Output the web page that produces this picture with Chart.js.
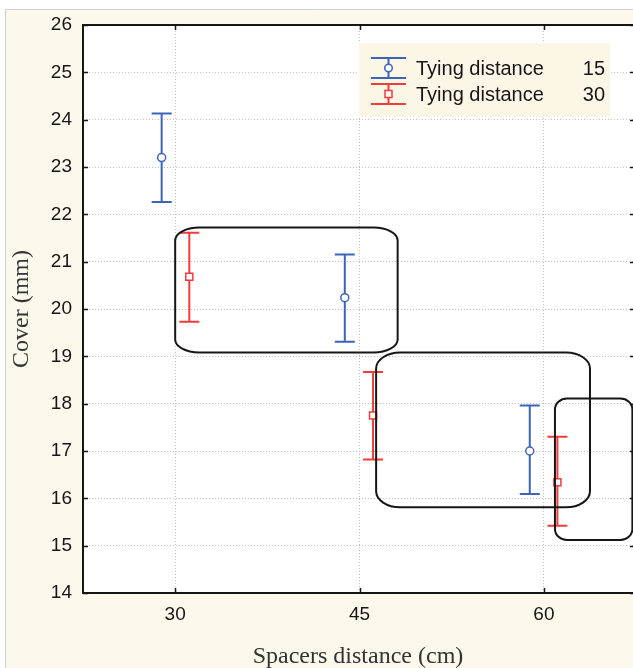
<!DOCTYPE html>
<html>
<head>
    <title>Cover vs spacers distance</title>
    <script src="https://cdn.jsdelivr.net/npm/chart.js"></script>
    <style>
        html, body { margin: 0; padding: 0; overflow: hidden; background: #fff; }
        .chart-box { position: absolute; left: 0; top: 0; width: 633px; height: 668px; }
    </style>
</head>
<body>
    <div class="chart-box">
        <canvas id="coverChart" width="633" height="668"></canvas>
    </div>

    <script>
        // values
        const xTicks = [30, 45, 60];
        const yTicks = [14, 15, 16, 17, 18, 19, 20, 21, 22, 23, 24, 25, 26];
        const legendNames = ['Tying distance', 'Tying distance'];
        const legendTags = ['15', '30'];

        const tying15X = [28.9, 43.8, 58.85];
        const tying15Mean = [23.2, 20.24, 17.0];
        const tying15Low = [22.26, 19.31, 16.09];
        const tying15High = [24.13, 21.15, 17.96];

        const tying30X = [31.15, 46.1, 61.1];
        const tying30Mean = [20.68, 17.75, 16.34];
        const tying30Low = [19.73, 16.82, 15.42];
        const tying30High = [21.61, 18.67, 17.30];

        // rounded group boxes, in axis units
        const groupX0 = [30.0, 46.35, 60.9];
        const groupX1 = [48.1, 63.75, 67.2];
        const groupY0 = [19.08, 15.81, 15.12];
        const groupY1 = [21.72, 19.08, 18.11];

        const BLUE = '#3d64b6';
        const RED = '#ee3d3b';
        const INK = '#161616';
        const CREAM = '#fdf8ec';
        const groupRadii = [[24, 13], [24, 16], [12, 11]];

        function toPoints(xs, mean, low, high) {
            return xs.map((x, i) => ({ x: x, y: mean[i], low: low[i], high: high[i] }));
        }

        // page background + white plot area
        const backdrop = {
            id: 'backdrop',
            beforeDraw(chart) {
                const { ctx, width, height, chartArea } = chart;
                ctx.save();
                ctx.fillStyle = '#fff';
                ctx.fillRect(0, 0, width, height);
                ctx.fillStyle = CREAM;
                ctx.fillRect(5.5, 9.5, width, height);
                ctx.strokeStyle = '#cfcfcf';
                ctx.lineWidth = 1;
                ctx.beginPath();
                ctx.moveTo(5.5, height);
                ctx.lineTo(5.5, 9.5);
                ctx.lineTo(width, 9.5);
                ctx.stroke();
                ctx.fillStyle = '#fff';
                ctx.fillRect(chartArea.left, chartArea.top, chartArea.width, chartArea.height);
                ctx.restore();
            }
        };

        // whiskers with caps, drawn under the markers
        const errorBars = {
            id: 'errorBars',
            beforeDatasetsDraw(chart) {
                const { ctx } = chart;
                const xs = chart.scales.x, ys = chart.scales.y;
                chart.data.datasets.forEach(ds => {
                    ctx.save();
                    ctx.strokeStyle = ds.borderColor;
                    ctx.lineWidth = 2;
                    ds.data.forEach(p => {
                        const px = xs.getPixelForValue(p.x);
                        const top = ys.getPixelForValue(p.high);
                        const bot = ys.getPixelForValue(p.low);
                        ctx.beginPath();
                        ctx.moveTo(px, top); ctx.lineTo(px, bot);
                        ctx.moveTo(px - 10, top); ctx.lineTo(px + 10, top);
                        ctx.moveTo(px - 10, bot); ctx.lineTo(px + 10, bot);
                        ctx.stroke();
                    });
                    ctx.restore();
                });
            }
        };

        function roundBox(ctx, x0, y0, x1, y1, rx, ry) {
            ctx.beginPath();
            ctx.moveTo(x0 + rx, y0);
            ctx.lineTo(x1 - rx, y0);
            ctx.ellipse(x1 - rx, y0 + ry, rx, ry, 0, -Math.PI / 2, 0);
            ctx.lineTo(x1, y1 - ry);
            ctx.ellipse(x1 - rx, y1 - ry, rx, ry, 0, 0, Math.PI / 2);
            ctx.lineTo(x0 + rx, y1);
            ctx.ellipse(x0 + rx, y1 - ry, rx, ry, 0, Math.PI / 2, Math.PI);
            ctx.lineTo(x0, y0 + ry);
            ctx.ellipse(x0 + rx, y0 + ry, rx, ry, 0, Math.PI, Math.PI * 1.5);
            ctx.closePath();
            ctx.stroke();
        }

        // frame, inward ticks, group boxes and the legend
        const overlay = {
            id: 'overlay',
            afterDatasetsDraw(chart) {
                const { ctx, chartArea } = chart;
                const xs = chart.scales.x, ys = chart.scales.y;
                const { left, right, top, bottom } = chartArea;
                ctx.save();

                ctx.strokeStyle = INK;
                ctx.lineWidth = 2;
                groupX0.forEach((v, i) => {
                    roundBox(ctx,
                        xs.getPixelForValue(v), ys.getPixelForValue(groupY1[i]),
                        xs.getPixelForValue(groupX1[i]), ys.getPixelForValue(groupY0[i]),
                        groupRadii[i][0], groupRadii[i][1]);
                });

                // frame is cut off on the right in the source figure
                ctx.lineWidth = 2;
                ctx.beginPath();
                ctx.moveTo(right, top);
                ctx.lineTo(left, top);
                ctx.lineTo(left, bottom);
                ctx.lineTo(right, bottom);
                ctx.stroke();

                ctx.lineWidth = 1.5;
                ctx.beginPath();
                yTicks.forEach(v => {
                    const py = Math.round(ys.getPixelForValue(v)) + 0.5;
                    ctx.moveTo(left, py); ctx.lineTo(left + 5, py);
                    ctx.moveTo(right, py); ctx.lineTo(right - 3, py);
                });
                xTicks.forEach(v => {
                    const px = Math.round(xs.getPixelForValue(v)) + 0.5;
                    ctx.moveTo(px, bottom); ctx.lineTo(px, bottom - 5);
                    ctx.moveTo(px, top); ctx.lineTo(px, top + 5);
                });
                ctx.stroke();

                // legend
                ctx.fillStyle = '#fcf6e7';
                ctx.fillRect(359, 43, 251, 74);
                const rows = [68, 94];
                const colors = [BLUE, RED];
                ctx.font = '20px "Liberation Sans", Arial, sans-serif';
                ctx.textBaseline = 'middle';
                rows.forEach((cy, i) => {
                    const cx = 388.5;
                    ctx.strokeStyle = colors[i];
                    ctx.lineWidth = 2;
                    ctx.beginPath();
                    ctx.moveTo(cx - 17.5, cy - 10); ctx.lineTo(cx + 17.5, cy - 10);
                    ctx.moveTo(cx - 17.5, cy + 10); ctx.lineTo(cx + 17.5, cy + 10);
                    ctx.moveTo(cx, cy - 10); ctx.lineTo(cx, cy + 10);
                    ctx.stroke();
                    ctx.fillStyle = '#fff';
                    ctx.lineWidth = 1.5;
                    ctx.beginPath();
                    if (i === 0) {
                        ctx.arc(cx, cy, 3.8, 0, Math.PI * 2);
                    } else {
                        ctx.rect(cx - 3.5, cy - 3.5, 7, 7);
                    }
                    ctx.fill();
                    ctx.stroke();
                    ctx.fillStyle = INK;
                    ctx.textAlign = 'left';
                    ctx.fillText(legendNames[i], 416, cy + 1);
                    ctx.textAlign = 'right';
                    ctx.fillText(legendTags[i], 605, cy + 1);
                });

                ctx.restore();
            }
        };

        const ctx = document.getElementById('coverChart').getContext('2d');
        const coverChart = new Chart(ctx, {
            type: 'scatter',
            data: {
                datasets: [
                    {
                        label: legendNames[0] + ' ' + legendTags[0],
                        data: toPoints(tying15X, tying15Mean, tying15Low, tying15High),
                        borderColor: BLUE,
                        backgroundColor: '#fff',
                        pointStyle: 'circle',
                        pointRadius: 4,
                        pointBorderWidth: 1.5
                    },
                    {
                        label: legendNames[1] + ' ' + legendTags[1],
                        data: toPoints(tying30X, tying30Mean, tying30Low, tying30High),
                        borderColor: RED,
                        backgroundColor: '#fff',
                        pointStyle: 'rect',
                        pointRadius: 5,
                        pointBorderWidth: 1.5
                    }
                ]
            },
            options: {
                responsive: false,
                animation: false,
                layout: { autoPadding: false, padding: { left: 0, top: 25, right: 0, bottom: 0 } },
                plugins: {
                    legend: { display: false },
                    tooltip: { enabled: false }
                },
                scales: {
                    x: {
                        type: 'linear',
                        min: 22.5,
                        max: 67.25,
                        afterBuildTicks: s => { s.ticks = xTicks.map(v => ({ value: v })); },
                        afterFit: s => { s.height = 75; s.paddingLeft = 0; s.paddingRight = 0; },
                        grid: { color: '#c2c2c2', lineWidth: 1, drawTicks: false },
                        border: { display: false, dash: [1, 2] },
                        ticks: {
                            padding: 10,
                            color: INK,
                            font: { family: '"Liberation Sans", Arial, sans-serif', size: 19 }
                        },
                        title: {
                            display: true,
                            text: 'Spacers distance (cm)',
                            color: '#333',
                            padding: { top: 0, bottom: -3 },
                            font: { family: '"Liberation Serif", "Times New Roman", serif', size: 24 }
                        }
                    },
                    y: {
                        min: 14,
                        max: 26,
                        afterBuildTicks: s => { s.ticks = yTicks.map(v => ({ value: v })); },
                        afterFit: s => { s.width = 83; },
                        grid: { color: '#c2c2c2', lineWidth: 1, drawTicks: false },
                        border: { display: false, dash: [1, 2] },
                        ticks: {
                            padding: 11,
                            color: INK,
                            font: { family: '"Liberation Sans", Arial, sans-serif', size: 19 }
                        },
                        title: {
                            display: true,
                            text: 'Cover (mm)',
                            color: '#333',
                            padding: { top: 7, bottom: 0 },
                            font: { family: '"Liberation Serif", "Times New Roman", serif', size: 24 }
                        }
                    }
                }
            },
            plugins: [backdrop, errorBars, overlay]
        });
    </script>
</body>
</html>
